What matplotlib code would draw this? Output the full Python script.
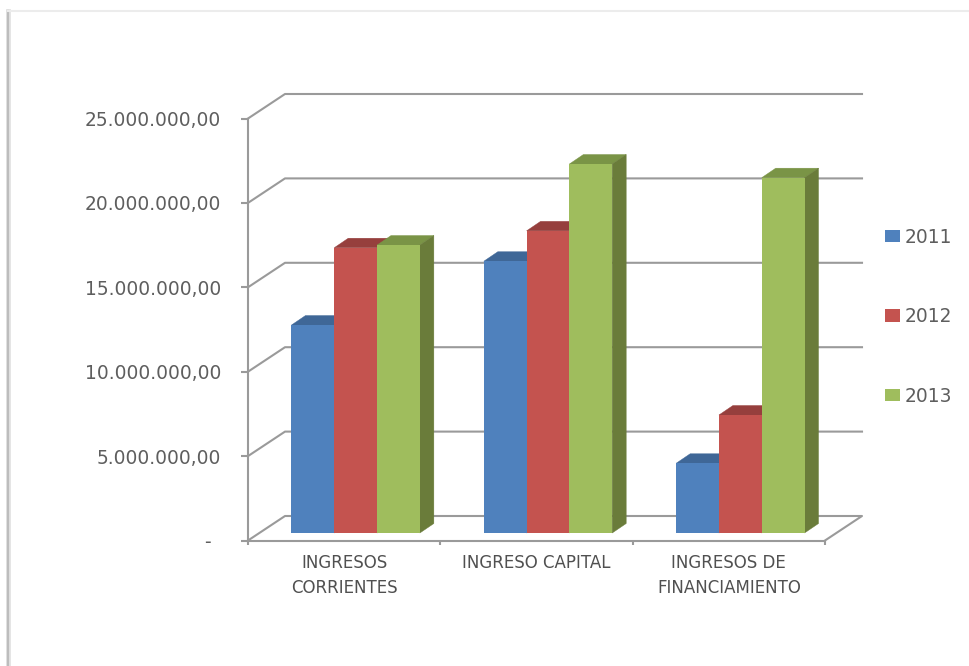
import matplotlib
matplotlib.use('Agg')
import matplotlib.pyplot as plt
from matplotlib.lines import Line2D
from matplotlib.patches import Polygon
from matplotlib.transforms import Affine2D, IdentityTransform

categories = ['INGRESOS\nCORRIENTES', 'INGRESO CAPITAL', 'INGRESOS DE\nFINANCIAMIENTO']
years = ['2011', '2012', '2013']
values2011 = [12320000, 16100000, 4130000]
values2012 = [16900000, 17900000, 6990000]
values2013 = [17060000, 21860000, 21050000]
yticks = [0, 5000000, 10000000, 15000000, 20000000, 25000000]
ylabels = ['-', '5.000.000,00', '10.000.000,00', '15.000.000,00', '20.000.000,00', '25.000.000,00']

W = 970
H = 666
GRID = '#9a9a9a'
TEXT = '#5e5e5e'
front = ['#4F81BD', '#C4534F', '#9FBD5D']
tops = ['#3F6797', '#963F3D', '#7A9446']
sides = ['#36587F', '#7F3432', '#6A7C3A']

fig = plt.figure(figsize=(W / 100, H / 100), dpi=100)
ax = fig.add_axes([248 / W, (H - 540.5) / H, 577 / W, 422 / H])
ax.set_xlim(0, 3)
ax.set_ylim(0, 25000000)
ax.patch.set_visible(False)


# data position -> pixels, moved back along the depth direction
def px(x, y, dx=0, dy=0):
    p = ax.transData.transform((x, y))
    return (p[0] + dx, p[1] + dy)


def face(points, color, z):
    ax.add_patch(Polygon(points, closed=True, facecolor=color, edgecolor=color, linewidth=0.3,
                         transform=IdentityTransform(), clip_on=False, zorder=z))


# walls and gridlines
wallx = 37
wally = 24.5
for v in yticks:
    pts = [px(0, v), px(0, v, wallx, wally), px(3, v, wallx, wally)]
    if v == 0:
        pts.append(px(3, 0))
    ax.add_line(Line2D([p[0] for p in pts], [p[1] for p in pts], color=GRID, linewidth=1.5,
                       transform=IdentityTransform(), clip_on=False, zorder=1))

# bars
barw = 0.2225
startx = 11.5
starty = 7.5
depthx = 14
depthy = 9.5
shift = ax.transData + Affine2D().translate(startx, starty)
handles = []
for s, vals in enumerate([values2011, values2012, values2013]):
    xs = [i + 0.5 + (s - 1) * barw for i in range(len(categories))]
    z = 3 + s
    b = ax.bar(xs, vals, width=barw, color=front[s], transform=shift, clip_on=False, zorder=z + 0.5, label=years[s])
    handles.append(b)
    for x, v in zip(xs, vals):
        l = x - barw / 2
        r = x + barw / 2
        sx = startx
        sy = starty
        face([px(l, v, sx, sy), px(r, v, sx, sy), px(r, v, sx + depthx, sy + depthy), px(l, v, sx + depthx, sy + depthy)], tops[s], z)
        face([px(r, 0, sx, sy), px(r, v, sx, sy), px(r, v, sx + depthx, sy + depthy), px(r, 0, sx + depthx, sy + depthy)], sides[s], z)

# axes
for name in ['top', 'right']:
    ax.spines[name].set_visible(False)
for name in ['left', 'bottom']:
    ax.spines[name].set_color(GRID)
    ax.spines[name].set_linewidth(1.5)
    ax.spines[name].set_zorder(2)

ax.set_yticks(yticks)
ax.set_yticklabels(ylabels)
ax.tick_params(axis='y', length=5, width=1.5, color=GRID, labelcolor=TEXT, labelsize=13.4, pad=14.5)
ax.yaxis.get_major_ticks()[0].set_pad(22)

ax.set_xticks([0, 1, 2, 3])
ax.set_xticklabels([])
ax.set_xticks([0.5, 1.5, 2.5], minor=True)
ax.set_xticklabels(categories, minor=True, linespacing=1.5)
ax.tick_params(axis='x', which='major', length=3, width=1.5, color=GRID)
ax.tick_params(axis='x', which='minor', length=0, labelcolor='#505050', labelsize=12, pad=9.5)

ax.legend(handles=handles, loc='center left', bbox_to_anchor=(885.5 / W, (H - 316.7) / H),
          bbox_transform=fig.transFigure, frameon=False, fontsize=13.4, labelcolor=TEXT,
          borderpad=0, borderaxespad=0, handlelength=0.77, handleheight=0.65, handletextpad=0.27,
          labelspacing=3.25)

# picture frame shadow
for lw, col in [(3.5, '#e4e4e4'), (1.6, '#bdbdbd')]:
    fig.add_artist(Line2D([8 / W, 8 / W], [0, (H - 11) / H], color=col, linewidth=lw))
fig.add_artist(Line2D([8 / W, 1], [(H - 11) / H, (H - 11) / H], color='#ececec', linewidth=1.5))

plt.savefig('out.png', dpi=100)
